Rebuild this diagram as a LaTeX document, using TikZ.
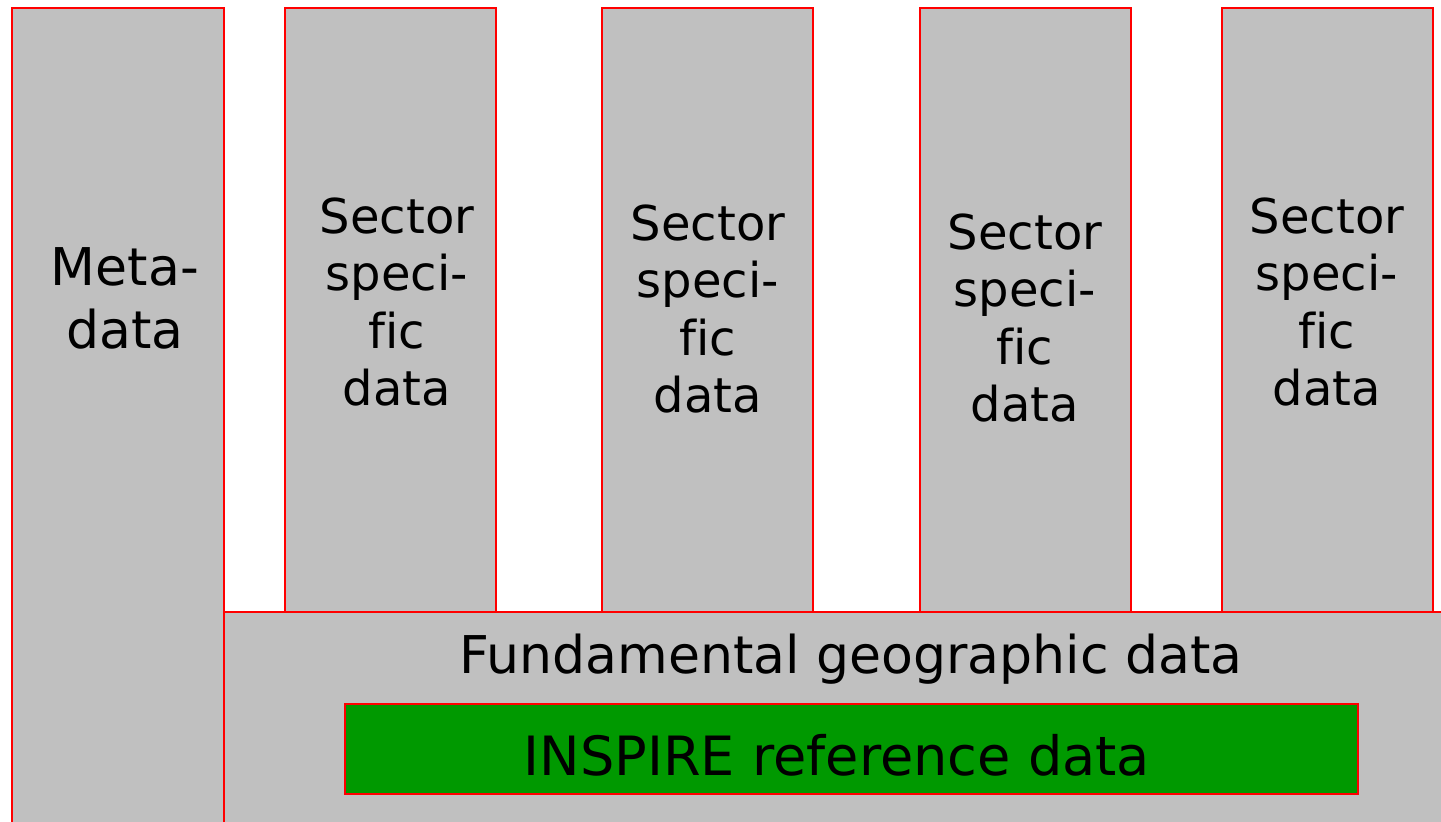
\documentclass[tikz,border=0pt]{standalone}
\usepackage{fontspec}
\setmainfont[Ligatures=NoCommon]{DejaVu Sans}
\definecolor{boxgray}{RGB}{192,192,192}
\definecolor{refgreen}{RGB}{0,153,0}
\begin{document}
\begin{tikzpicture}[x=0.01cm,y=-0.01cm]
  \tikzset{block/.style={draw=red,fill=boxgray,line width=0.6pt},
    label/.style={align=center,inner sep=0pt,font=\fontsize{13.66pt}{16.3pt}\selectfont},
    biglabel/.style={label,font=\fontsize{14.8pt}{17.9pt}\selectfont}};
  \useasboundingbox (0,0) rectangle (1441,822);
  \clip (0,0) rectangle (1441,822);
  \draw[block] (12,8) rectangle (224,840);
  \draw[block] (285,8) rectangle (496,612);
  \draw[block] (602,8) rectangle (813,612);
  \draw[block] (920,8) rectangle (1131,612);
  \draw[block] (1222,8) rectangle (1433,612);
  \draw[block] (224,612) rectangle (1460,840);
  \draw[block,fill=refgreen] (345,704) rectangle (1358,794);
  \node[biglabel](Meta) at (125,298){Meta-\\data};
  \node[label](SecA) at (397,302){Sector\\speci-\\fic\\data};
  \node[label](SecB) at (708,309){Sector\\speci-\\fic\\data};
  \node[label](SecC) at (1025,318){Sector\\speci-\\fic\\data};
  \node[label](SecD) at (1327,302){Sector\\speci-\\fic\\data};
  \node[biglabel](Fund) at (851,659){Fundamental geographic data};
  \node[biglabel,font=\fontsize{15.4pt}{18pt}\selectfont](Insp) at (837,755){INSPIRE reference data};
\end{tikzpicture}
\end{document}
